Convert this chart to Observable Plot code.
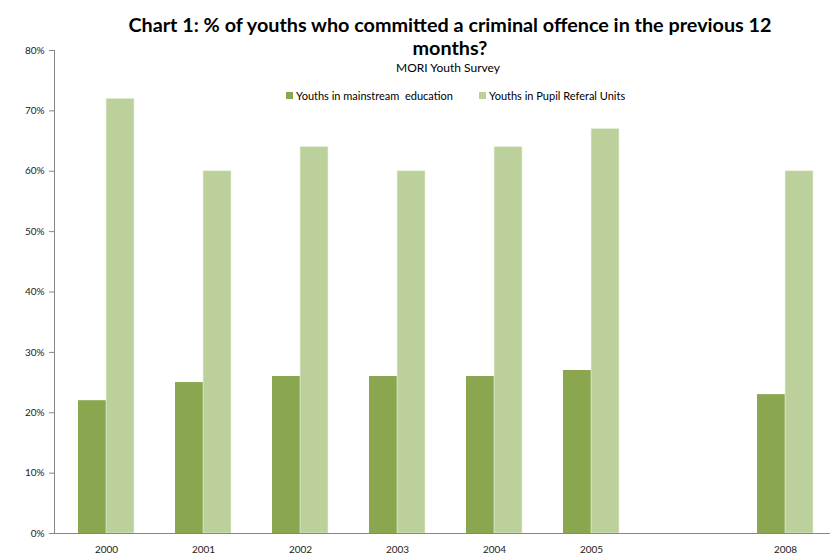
<!DOCTYPE html>
<html>
<head>
<meta charset="utf-8">
<script src="https://cdn.jsdelivr.net/npm/d3@7"></script>
<script src="https://cdn.jsdelivr.net/npm/@observablehq/plot@0.6"></script>
<style>
  html, body { margin: 0; padding: 0; background: #fff; }
  #wrap { position: relative; width: 830px; height: 557px; font-family: Lato, "Open Sans", sans-serif; color: #000; }
  #title { position: absolute; left: 100px; width: 700px; top: 13px; text-align: center; font-weight: bold; font-size: 19.8px; line-height: 22.5px; }
  #subtitle { position: absolute; left: 248px; width: 400px; top: 60px; text-align: center; font-size: 12px; }
  #legend { position: absolute; left: 0; top: 89px; font-size: 11px; white-space: nowrap; }
  #legend span.item { position: absolute; top: 0; display: inline-flex; align-items: center; }
  #legend span.sw { display: inline-block; width: 7px; height: 7px; margin-right: 3px; }
  #chart { position: absolute; left: 0; top: 0; }
</style>
</head>
<body>
<div id="wrap">
  <div id="chart"></div>
  <div id="title"></div>
  <div id="subtitle"></div>
  <div id="legend"></div>
</div>
<script>
const titleLines = ["Chart 1: % of youths who committed a criminal offence in the previous 12", "months?"];
const subtitleText = "MORI Youth Survey";
const years = ["2000", "2001", "2002", "2003", "2004", "2005", "2006", "2008"];
const yearLabels = ["2000", "2001", "2002", "2003", "2004", "2005", "", "2008"];
const seriesNames = ["Youths in mainstream  education", "Youths in Pupil Referal Units"];
const seriesColors = ["#8aa64e", "#bbd09a"];
const legendLeft = [286, 479];
const dataYears = ["2000", "2001", "2002", "2003", "2004", "2005", "2008"];
const mainstream = [22, 25, 26, 26, 26, 27, 23];
const pru = [72, 60, 64, 60, 64, 67, 60];
const yTicks = [0, 10, 20, 30, 40, 50, 60, 70, 80];

const rows = [];
dataYears.forEach((y, i) => {
  rows.push({year: y, series: seriesNames[0], value: mainstream[i]});
  rows.push({year: y, series: seriesNames[1], value: pru[i]});
});

const t = document.getElementById("title");
titleLines.forEach(l => { const d = document.createElement("div"); d.textContent = l; t.appendChild(d); });
document.getElementById("subtitle").textContent = subtitleText;
const leg = document.getElementById("legend");
seriesNames.forEach((s, i) => {
  const it = document.createElement("span");
  it.className = "item";
  it.style.left = legendLeft[i] + "px";
  const sw = document.createElement("span");
  sw.className = "sw";
  sw.style.background = seriesColors[i];
  it.appendChild(sw);
  it.appendChild(document.createTextNode(s));
  it.style.whiteSpace = "pre";
  leg.appendChild(it);
});

const labelOf = new Map(years.map((y, i) => [y, yearLabels[i]]));

const chart = Plot.plot({
  width: 830,
  height: 557,
  marginTop: 50,
  marginBottom: 24,
  marginLeft: 54,
  marginRight: 0,
  style: {fontFamily: "Lato, 'Open Sans', sans-serif", fontSize: "10px", color: "#222", background: "#fff"},
  x: {domain: years, range: [54, 836], paddingInner: 0.426, paddingOuter: 0.213, axis: null, label: null},
  y: {domain: [0, 80], axis: null, label: null},
  color: {domain: seriesNames, range: seriesColors},
  marks: [
    Plot.barY(rows.filter(d => d.series === seriesNames[0]), {x: "year", y: "value", fill: "series", insetRight: 28.05}),
    Plot.barY(rows.filter(d => d.series === seriesNames[1]), {x: "year", y: "value", fill: "series", insetLeft: 28.05, stroke: "#e8f0dc", strokeWidth: 0.6}),
    Plot.axisY({ticks: yTicks, tickSize: 5, tickPadding: 5, tickFormat: d => d + "%", stroke: "#868686", fill: "#222", label: null}),
    Plot.axisX({tickSize: 0, tickPadding: 12, tickFormat: d => labelOf.get(d), fill: "#222", label: null}),
    Plot.frame({anchor: "left", stroke: "#868686"}),
    Plot.ruleY([0], {stroke: "#868686", strokeWidth: 1.2})
  ]
});
document.getElementById("chart").appendChild(chart);
</script>
</body>
</html>
